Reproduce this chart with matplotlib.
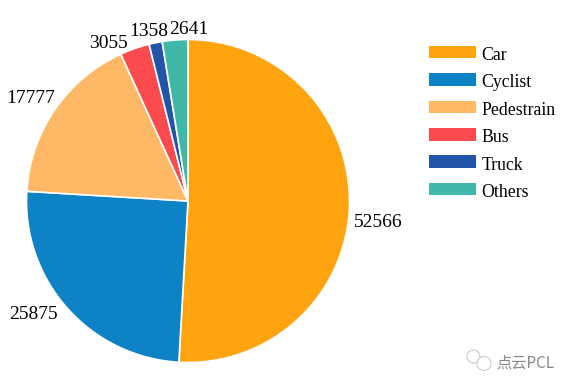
import matplotlib
matplotlib.use('Agg')
import matplotlib.pyplot as plt
from matplotlib.patches import Rectangle, Circle

categories = ['Car', 'Cyclist', 'Pedestrain', 'Bus', 'Truck', 'Others']
values = [52566, 25875, 17777, 3055, 1358, 2641]
colors = ['#FFA40E', '#0D83C6', '#FFB866', '#FB4B4E', '#2254A8', '#40B8A9']
watermark = '点云PCL'

W, H = 569, 385
plt.rcParams['font.family'] = ['Liberation Serif', 'DejaVu Serif']
fig = plt.figure(figsize=(W/100, H/100), dpi=100)
ax = fig.add_axes([0, 0, 1, 1])

# y axis is inverted (pixel coordinates), so counterclock=True draws clockwise on screen
wedges, _ = ax.pie(values, startangle=-90, counterclock=True, colors=colors,
                   center=(188, 201), radius=161.5, frame=False,
                   wedgeprops=dict(edgecolor='white', linewidth=1.2))
ax.set_xlim(0, W); ax.set_ylim(H, 0); ax.set_aspect('auto'); ax.axis('off')

label_pos = [(378, 222.5), (33, 314.5), (31, 98.5), (108.5, 43.5), (148.5, 31), (189, 29.5)]
for v, (x, y) in zip(values, label_pos):
    ax.text(x, y, str(v), fontsize=14, ha='center', va='center', color='black')

for i, c in enumerate(categories):
    y = 52 + i*27.4
    ax.add_patch(Rectangle((429, y-6.3), 47, 12.6, facecolor=colors[i], edgecolor='none'))
    ax.text(481.5, y+3.5, c, fontsize=12.8, ha='left', va='center', color='black')

# watermark icon and text
for (cx, cy, r) in [(473.5, 356.5, 6.5), (484, 363.5, 7)]:
    ax.add_patch(Circle((cx, cy), r, facecolor='white', edgecolor='#cccccc', linewidth=0.8))
ax.text(525, 363, watermark, fontsize=11, ha='center', va='center', color='#888888',
        family=['Noto Sans CJK SC', 'DejaVu Sans'])
fig.savefig('out.png', dpi=100)
